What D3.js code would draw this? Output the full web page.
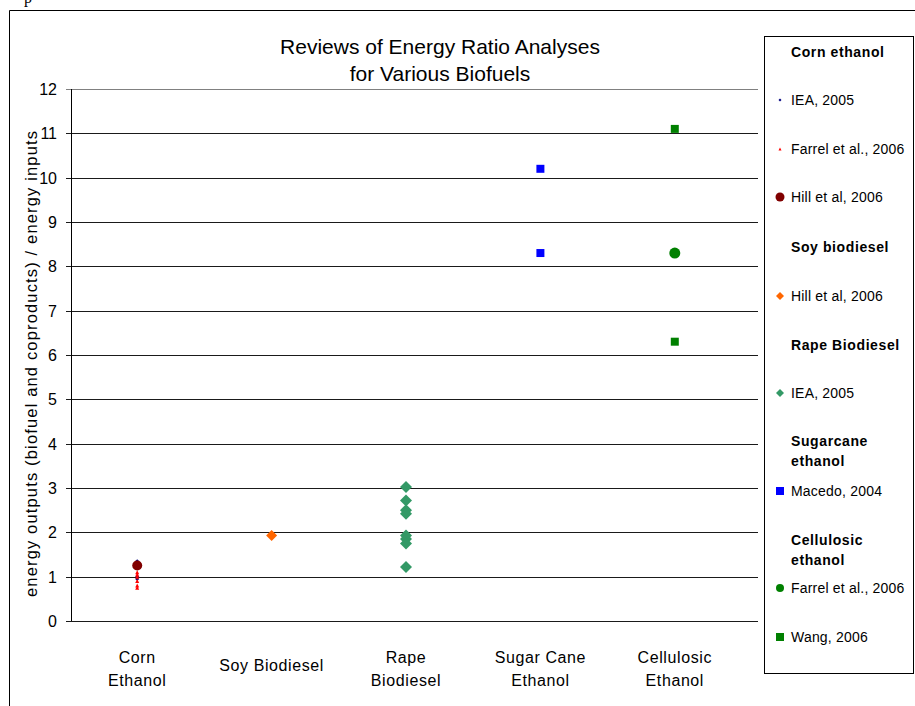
<!DOCTYPE html>
<html><head><meta charset="utf-8">
<script src="https://cdn.jsdelivr.net/npm/d3@7"></script>
<style>body{margin:0;background:#fff}svg{display:block;font-family:"Liberation Sans",Arial,sans-serif}</style>
</head><body><svg id="c" width="915" height="706"></svg>
<script>
const categories = ["Corn Ethanol","Soy Biodiesel","Rape Biodiesel","Sugar Cane Ethanol","Cellulosic Ethanol"];
const categoryLabels = [["Corn","Ethanol"],["Soy Biodiesel"],["Rape","Biodiesel"],["Sugar Cane","Ethanol"],["Cellulosic","Ethanol"]];
const yTicks = [0,1,2,3,4,5,6,7,8,9,10,11,12];
const cornIEA = [1.35, 1.3, 1.0, 0.95];
const cornFarrel = [1.2, 1.1, 1.05, 1.0, 0.9, 0.8, 0.75];
const cornHill = [1.25];
const soyHill = [1.93];
const rapeIEA = [3.02, 2.72, 2.5, 2.42, 1.93, 1.85, 1.75, 1.22];
const sugarMacedo = [10.2, 8.3];
const cellFarrel = [8.3];
const cellWang = [11.1, 6.3];

const series = [
  {cat:0, name:"IEA, 2005", vals:cornIEA, shape:"diamond", color:"#000080", size:4},
  {cat:0, name:"Farrel et al., 2006", vals:cornFarrel, shape:"triangle", color:"#ff0000", size:4},
  {cat:0, name:"Hill et al, 2006", vals:cornHill, shape:"circle", color:"#800000", size:10},
  {cat:1, name:"Hill et al, 2006", vals:soyHill, shape:"diamond", color:"#ff6600", size:11},
  {cat:2, name:"IEA, 2005", vals:rapeIEA, shape:"diamond", color:"#339966", size:12},
  {cat:3, name:"Macedo, 2004", vals:sugarMacedo, shape:"square", color:"#0000ff", size:8},
  {cat:4, name:"Farrel et al., 2006", vals:cellFarrel, shape:"circle", color:"#008000", size:11},
  {cat:4, name:"Wang, 2006", vals:cellWang, shape:"square", color:"#008000", size:8}
];

const svg = d3.select("#c");
// outer frame
svg.append("path").attr("d","M9.5,706V10.5H915").attr("fill","none").attr("stroke","#000").attr("stroke-width",1);
svg.append("text").attr("x",24).attr("y",3).attr("font-family","Liberation Serif").attr("font-size",16).text("p");

const plotL = 71, plotR = 758, plotT = 89, plotB = 621;
const x = d3.scaleBand().domain(categories).range([70, 742]);
const y = d3.scaleLinear().domain([0,12]).range([plotB, plotT]);

// gridlines
svg.append("g").selectAll("line").data(yTicks).join("line")
  .attr("x1",66).attr("x2",plotR)
  .attr("y1",d=>Math.round(y(d))+0.5).attr("y2",d=>Math.round(y(d))+0.5)
  .attr("stroke",d=>d===12?"#808080":"#1a1a1a").attr("stroke-width",1);
// y axis line
svg.append("line").attr("x1",plotL+0.5).attr("x2",plotL+0.5).attr("y1",y(12)).attr("y2",y(0)).attr("stroke","#000");
// y tick labels
svg.append("g").selectAll("text").data(yTicks).join("text")
  .attr("x",57).attr("y",d=>y(d)+6).attr("text-anchor","end").attr("font-size",16).text(d=>d);

// y axis title
svg.append("text").attr("transform","translate(37,364) rotate(-90)").attr("text-anchor","middle")
  .attr("font-size",16.5).attr("textLength",466).attr("lengthAdjust","spacing")
  .text("energy outputs (biofuel and coproducts) / energy inputs");

// title
svg.append("text").attr("x",440).attr("y",54).attr("text-anchor","middle").attr("font-size",21).text("Reviews of Energy Ratio Analyses");
svg.append("text").attr("x",440).attr("y",81).attr("text-anchor","middle").attr("font-size",21).text("for Various Biofuels");

// category labels
categories.forEach((c,i)=>{
  const lines = categoryLabels[i];
  const cx = x(c)+x.bandwidth()/2;
  const t = svg.append("text").attr("text-anchor","middle").attr("font-size",16).attr("letter-spacing",0.6);
  if(lines.length===1){
    t.append("tspan").attr("x",cx).attr("y",671).text(lines[0]);
  } else {
    lines.forEach((l,j)=>t.append("tspan").attr("x",cx).attr("y",663+j*23).text(l));
  }
});

function shapePath(shape,s){
  const h=s/2;
  if(shape==="diamond") return `M0,${-h}L${h},0L0,${h}L${-h},0Z`;
  if(shape==="square") return `M${-h},${-h}H${h}V${h}H${-h}Z`;
  if(shape==="triangle") return `M0,${-h}L${h},${h}H${-h}Z`;
  return d3.arc()({innerRadius:0,outerRadius:h,startAngle:0,endAngle:2*Math.PI});
}

// points
series.forEach(s=>{
  const cx = x(categories[s.cat])+x.bandwidth()/2;
  svg.append("g").selectAll("path").data(s.vals).join("path")
    .attr("transform",d=>`translate(${cx},${y(d)})`)
    .attr("d",shapePath(s.shape,s.size)).attr("fill",s.color);
});

// legend
const lg = svg.append("g");
lg.append("rect").attr("x",764.5).attr("y",36.5).attr("width",149).attr("height",637).attr("fill","#fff").attr("stroke","#000");
const legendItems = [
  {type:"h", lines:["Corn ethanol"], y:57},
  {type:"i", s:0, y:105},
  {type:"i", s:1, y:154},
  {type:"i", s:2, y:202},
  {type:"h", lines:["Soy biodiesel"], y:252},
  {type:"i", s:3, y:301},
  {type:"h", lines:["Rape Biodiesel"], y:350},
  {type:"i", s:4, y:398},
  {type:"h", lines:["Sugarcane","ethanol"], y:446},
  {type:"i", s:5, y:496},
  {type:"h", lines:["Cellulosic","ethanol"], y:545},
  {type:"i", s:6, y:593},
  {type:"i", s:7, y:642}
];
const legendSizes = [3,3,9,8,8,8,8,8];
legendItems.forEach(it=>{
  if(it.type==="h"){
    const t = lg.append("text").attr("font-size",14).attr("font-weight","bold").attr("letter-spacing",0.6);
    it.lines.forEach((l,j)=>t.append("tspan").attr("x",791).attr("y",it.y+j*20).text(l));
  } else {
    const s = series[it.s];
    lg.append("path").attr("transform",`translate(780,${it.y-5})`).attr("d",shapePath(s.shape,legendSizes[it.s])).attr("fill",s.color);
    lg.append("text").attr("x",791).attr("y",it.y).attr("font-size",14).attr("letter-spacing",0.2).text(s.name);
  }
});
</script></body></html>
